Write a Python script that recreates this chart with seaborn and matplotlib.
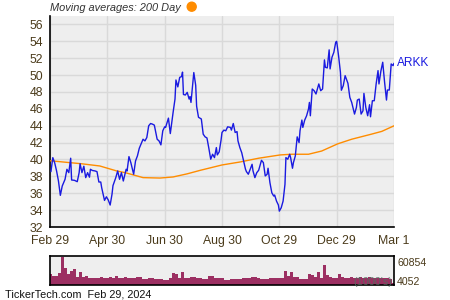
import numpy as np
import pandas as pd
import matplotlib
matplotlib.use("Agg")
import matplotlib.pyplot as plt
from matplotlib.patches import Ellipse
import seaborn as sns

# ---------------- data ----------------
# day offsets from Feb 29 (start of window) and ARKK closing prices
price_day = [1, 3, 5, 7, 9, 11, 13, 16, 18, 20, 22, 23, 26, 29, 31, 32, 34, 36, 38, 40,
             42, 43, 45, 48, 50, 52, 54, 55, 58, 60, 62, 64, 66, 67, 70, 72, 74, 76, 78, 81,
             82, 84, 86, 89, 91, 93, 95, 98, 99, 101, 103, 105, 107, 109, 111, 114, 116, 118, 120, 122,
             123, 126, 128, 131, 133, 134, 136, 138, 140, 141, 142, 144, 146, 148, 149, 150, 153, 155, 156, 158,
             161, 163, 165, 167, 169, 171, 173, 175, 177, 178, 180, 182, 183, 185, 187, 189, 192, 193, 195, 197,
             199, 200, 202, 204, 206, 208, 209, 211, 213, 215, 216, 218, 220, 222, 223, 225, 227, 229, 231, 232,
             234, 236, 238, 239, 241, 243, 244, 246, 248, 250, 251, 253, 255, 256, 258, 259, 261, 263, 265, 266,
             268, 269, 271, 273, 275, 276, 277, 279, 281, 283, 284, 286, 288, 290, 292, 293, 295, 297, 298, 300,
             302, 304, 305, 307, 309, 310, 312, 314, 316, 317, 319, 321, 324, 326, 327, 329, 331, 333, 334, 336,
             338, 340, 341, 343, 345, 347, 349, 350, 352, 354, 356, 358, 359, 361, 363, 365, 366]
price = [38.56, 40.22, 39.60, 38.64, 37.45, 35.75, 36.85, 37.65, 38.84, 38.44, 40.15, 37.57, 37.53, 37.37, 38.44, 39.50, 38.44, 39.20, 37.85, 38.44,
         37.90, 38.84, 38.70, 38.64, 38.56, 37.33, 37.33, 36.65, 35.15, 35.58, 35.20, 34.60, 35.90, 36.90, 37.85, 38.64, 37.65, 38.44, 37.45, 38.84,
         38.64, 40.34, 39.63, 38.25, 39.83, 40.42, 41.33, 42.12, 42.40, 42.20, 42.60, 43.99, 44.26, 44.19, 44.07, 42.40, 42.20, 41.73, 43.40, 43.87,
         43.80, 44.90, 43.07, 45.60, 47.16, 49.42, 48.60, 49.73, 49.82, 50.35, 47.70, 47.64, 47.95, 47.16, 47.44, 46.76, 50.30, 48.80, 46.30, 45.00,
         44.80, 43.00, 42.68, 42.55, 41.33, 40.03, 40.62, 40.22, 41.41, 40.54, 40.90, 42.30, 43.20, 43.48, 43.40, 43.87, 43.80, 43.48, 44.26, 43.20,
         43.30, 42.20, 41.41, 40.80, 39.83, 38.84, 38.56, 38.25, 38.84, 39.43, 38.64, 37.85, 38.44, 38.72, 39.12, 39.90, 39.63, 38.05, 38.25, 38.96,
         37.25, 36.06, 35.67, 35.79, 35.07, 34.60, 33.88, 34.28, 35.07, 37.06, 40.22, 40.03, 40.62, 40.22, 38.96, 39.63, 40.42, 42.68, 42.00, 43.40,
         44.67, 43.80, 44.67, 45.18, 45.97, 46.76, 45.18, 48.35, 48.15, 47.76, 48.15, 48.95, 48.15, 48.35, 51.80, 50.92, 50.85, 52.99, 50.73, 52.11,
         52.70, 53.90, 54.00, 52.30, 50.33, 48.20, 48.74, 49.93, 49.34, 49.02, 47.36, 46.76, 45.38, 46.17, 47.04, 47.16, 45.38, 45.77, 47.83, 46.17,
         45.18, 46.49, 45.06, 46.96, 46.96, 48.95, 50.53, 48.95, 50.45, 51.52, 49.14, 47.04, 48.23, 48.23, 51.32, 51.12, 51.40]

# 200-day moving average (read at sample dates)
ma_day = [0, 33, 53, 60, 71, 80, 99, 117, 131, 146, 160, 183, 202, 222, 245, 257, 275, 289, 306, 321, 342, 353, 366]
ma_val = [39.85, 39.50, 39.23, 39.00, 38.64, 38.44, 37.85, 37.80, 37.93, 38.30, 38.72, 39.35, 39.70, 40.15,
          40.54, 40.62, 40.62, 41.00, 41.85, 42.40, 43.00, 43.33, 43.99]

# volume (1000's), roughly every third trading day
volume = [23000, 20000, 20000, 25800, 60854, 36500, 23600, 30100, 34400, 17800,
          28600, 17800, 20000, 15700, 14400, 15700, 15700, 17200, 14400, 14400,
          17800, 14400, 20000, 14400, 14400, 17800, 15000, 14400, 14400, 16600,
          16600, 12900, 13500, 15700, 15700, 12900, 13500, 12300, 10750, 11400,
          14400, 25200, 23600, 15700, 28600, 14400, 15700, 17800, 17200, 15700,
          15700, 12900, 13500, 20000, 19400, 15700, 15700, 15700, 10750, 10750,
          12300, 12300, 12300, 12900, 15700, 15700, 15000, 16600, 16600, 15700,
          12900, 12900, 13500, 15700, 15700, 14400, 14400, 15000, 30100, 20000,
          27300, 17800, 17800, 12900, 12900, 13500, 23000, 21500, 17800, 27300,
          15700, 43000, 21500, 17200, 14400, 14400, 23000, 17200, 15700, 15700,
          17200, 15700, 15700, 17800, 14400, 15700, 17200, 15700, 15000, 15700,
          14400, 15700, 14400, 13500, 4052]

tick_days = [0, 61, 122, 183, 244, 305, 366]
tick_labels = ["Feb 29", "Apr 30", "Jun 30", "Aug 30", "Oct 29", "Dec 29", "Mar 1"]
y_ticks = list(range(32, 57, 2))
ticker = "ARKK"
vol_max_label = "60854"
vol_min_label = "4052"

# ---------------- style ----------------
sns.set_style("white")
plt.rcParams['font.family'] = ['Liberation Sans', 'DejaVu Sans']

BG = "#EEEEEE"
GRID = "#D9D9D9"
TXT = "#4A3A1A"
BLUE = "#1A1AE0"
ORANGE = "#FF8C00"
VOL = "#9C2F62"

fig = plt.figure(figsize=(4.5, 3.0), dpi=100)
ax = fig.add_axes([50 / 450, 1 - 227 / 300, 344 / 450, 211 / 300])
axv = fig.add_axes([50 / 450, 1 - 285 / 300, 344 / 450, 29 / 300])

# ---------------- main price panel ----------------
ax.set_facecolor(BG)
df_price = pd.DataFrame({"day": price_day, "price": price})
df_ma = pd.DataFrame({"day": ma_day, "ma": ma_val})
sns.lineplot(data=df_ma, x="day", y="ma", color=ORANGE, linewidth=1.0, ax=ax, sort=False, zorder=3)
sns.lineplot(data=df_price, x="day", y="price", color=BLUE, linewidth=1.0, ax=ax, sort=False, zorder=4)

ax.set_xlim(0, 366)
ax.set_ylim(32, 57)
ax.set_xticks(tick_days)
ax.set_xticklabels(tick_labels)
ax.set_xticks([(a + b) / 2 for a, b in zip(tick_days[:-1], tick_days[1:])], minor=True)
ax.set_yticks(y_ticks)
ax.set_yticks(list(range(33, 57, 2)), minor=True)
ax.set_xlabel("")
ax.set_ylabel("")
ax.grid(True, which="major", color=GRID, linewidth=1.0)
ax.set_axisbelow(True)
for s in ["top", "right"]:
    ax.spines[s].set_visible(False)
for s in ["left", "bottom"]:
    ax.spines[s].set_color("black")
    ax.spines[s].set_linewidth(1.2)
ax.tick_params(axis="both", which="both", direction="in", colors="black",
               labelcolor=TXT, labelsize=8.8)
ax.tick_params(axis="both", which="major", length=4, width=1)
ax.tick_params(axis="both", which="minor", length=3, width=1)
ax.tick_params(axis="x", pad=6)
ax.tick_params(axis="y", pad=5)

ax.text(1.008, (price[-1] - 32) / 25, ticker, transform=ax.transAxes, color=BLUE,
        fontsize=8.6, va="center", ha="left")

# ---------------- volume panel ----------------
axv.set_facecolor(BG)
vol_x = np.linspace(0, 366, len(volume))
sns.barplot(x=vol_x, y=volume, native_scale=True, width=1.0, color=VOL,
            saturation=1, linewidth=0, ax=axv)
axv.set_xlim(0, 366)
axv.set_ylim(0, 62000)
axv.set_xticks([])
axv.set_yticks([])
axv.set_xlabel("")
axv.set_ylabel("")
for s in axv.spines.values():
    s.set_color("black")
    s.set_linewidth(1.2)
axv.text(0.995, 0.12, "(1000's)", transform=axv.transAxes, ha="right", va="center",
         fontsize=7.8, color="#4F6F5F", alpha=0.85)
fig.text(397 / 450, 1 - 262.7 / 300, vol_max_label, color=TXT, fontsize=7.6, va="center", ha="left")
fig.text(397 / 450, 1 - 281.7 / 300, vol_min_label, color=TXT, fontsize=7.6, va="center", ha="left")

# ---------------- header / footer ----------------
fig.text(50 / 450, 1 - 7.7 / 300, "Moving averages: 200 Day", style="italic",
         color="#333333", fontsize=7.9, va="center", ha="left")
fig.add_artist(Ellipse((191.7 / 450, 1 - 6.7 / 300), 9 / 450, 9 / 300,
                       transform=fig.transFigure, color=ORANGE))
fig.text(5 / 450, 1 - 294.3 / 300, "TickerTech.com  Feb 29, 2024", color="#111111",
         fontsize=7.8, va="center", ha="left")

fig.savefig("out.png", dpi=100)
